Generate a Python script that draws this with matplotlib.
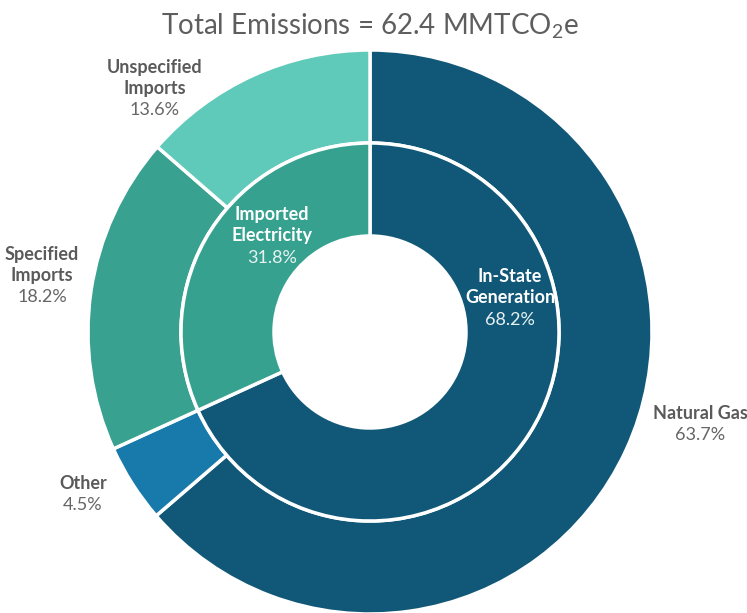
import matplotlib.pyplot as plt

# data
outer_labels = ["Natural Gas", "Other", "Specified\nImports", "Unspecified\nImports"]
outer_values = [63.7, 4.5, 18.2, 13.6]
outer_colors = ["#115878", "#187aab", "#38a18f", "#5fcab9"]

inner_labels = ["In-State\nGeneration", "Imported\nElectricity"]
inner_values = [68.2, 31.8]
inner_colors = ["#115878", "#37a18f"]

title = "Total Emissions = 62.4 MMTCO$_2$e"

plt.rcParams['font.family'] = ['Lato', 'DejaVu Sans']
plt.rcParams['mathtext.fontset'] = 'custom'
plt.rcParams['mathtext.rm'] = 'Lato'

W, H = 747, 613
fig = plt.figure(figsize=(W / 100, H / 100), dpi=100)
ax = fig.add_axes([0, 0, 1, 1])


def py(y):
    # pixel row (from top) -> data y
    return H - y


cx, cy = 370, py(332)
r_out, r_mid, r_in = 282, 189, 96

ax.pie(outer_values, colors=outer_colors, radius=r_out, center=(cx, cy),
       startangle=90, counterclock=False, frame=True,
       wedgeprops=dict(width=r_out - r_mid, edgecolor='white', linewidth=2.5))
ax.pie(inner_values, colors=inner_colors, radius=r_mid, center=(cx, cy),
       startangle=90, counterclock=False, frame=True,
       wedgeprops=dict(width=r_mid - r_in, edgecolor='white', linewidth=2.5))
ax.set_xlim(0, W)
ax.set_ylim(0, H)
ax.set_aspect('equal')
ax.axis('off')

# outer labels (positions in pixels)
gray = "#5a5a5a"
fs = 13
outer_pos = [(700, 405), (83, 475), (42, 246), (155, 59)]
for lab, val, (x, y) in zip(outer_labels, outer_values, outer_pos):
    nlines = lab.count("\n") + 1
    ax.text(x, py(y), lab, ha='center', va='top', fontsize=fs, fontweight='bold',
            color=gray, linespacing=1.3)
    ax.text(x, py(y + 2 + 20.5 * nlines), f"{val}%", ha='center', va='top',
            fontsize=fs, color='#666666')

inner_pos = [(510, 268), (272, 206)]
for lab, val, (x, y) in zip(inner_labels, inner_values, inner_pos):
    ax.text(x, py(y), lab, ha='center', va='top', fontsize=fs, fontweight='bold',
            color='white', linespacing=1.3)
    ax.text(x, py(y + 44), f"{val}%", ha='center', va='top', fontsize=fs,
            color='#e8f2f2')

ax.text(cx, py(26), title, ha='center', va='center', fontsize=20,
        color='#5e5e5e')

fig.savefig("out.png", dpi=100)
